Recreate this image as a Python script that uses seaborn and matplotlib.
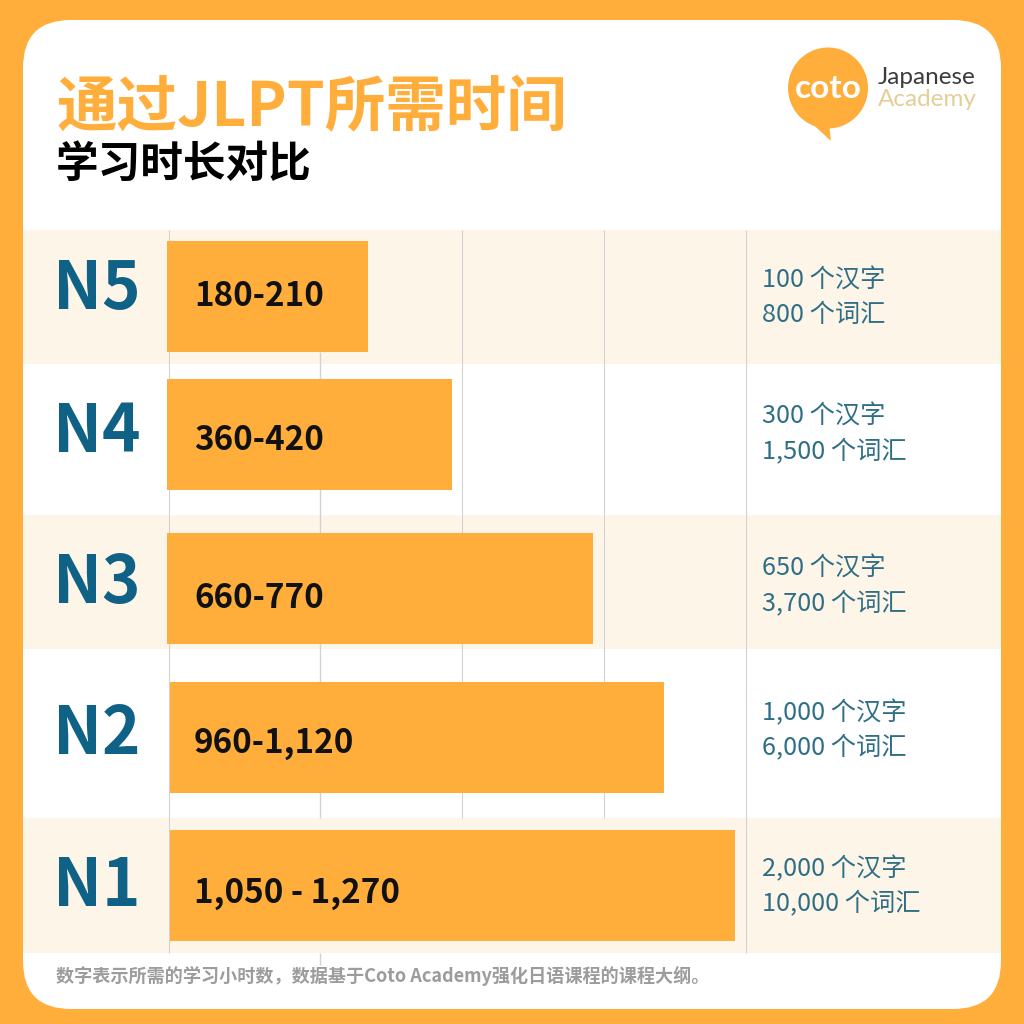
import matplotlib
matplotlib.use("Agg")
import matplotlib.pyplot as plt
import pandas as pd
import seaborn as sns
from matplotlib.patches import Ellipse, FancyBboxPatch, Polygon, Rectangle

# ---- data ----
levels = ["N5", "N4", "N3", "N2", "N1"]
hour_labels = ["180-210", "360-420", "660-770", "960-1,120", "1,050 - 1,270"]
# bar ends on the chart's own scale (last gridline = 1000), bars are not to scale with the hours
bar_ends = [345, 492, 735, 858, 982]
bar_starts = [-2, -2, -2, 2, 2]
grid_ticks = [0, 262, 508, 754, 1000]
kanji_labels = ["100 个汉字", "300 个汉字", "650 个汉字", "1,000 个汉字", "2,000 个汉字"]
vocab_labels = ["800 个词汇", "1,500 个词汇", "3,700 个词汇", "6,000 个词汇", "10,000 个词汇"]

# ---- layout, in reference pixels ----
row_centres = [296.5, 434.5, 588.5, 737.5, 885.5]
level_y = [289, 433, 584, 735, 886]
value_y = [297, 440, 599, 744, 893]
kanji_y = [281, 417, 569, 713, 869]
vocab_y = [315, 451, 603, 747, 903]
bands = [(230, 364), (515, 649), (818, 953)]

ORANGE = "#FFAE3B"
CREAM = "#FEF5E9"
TEAL = "#0F6285"
TEAL_SOFT = "#2F6F86"
GRID = "#D2D2D2"

sns.set_theme(style="white")
plt.rcParams["font.family"] = ["Noto Sans CJK SC", "DejaVu Sans"]

fig = plt.figure(figsize=(10.24, 10.24), dpi=100, facecolor=ORANGE)

# background axes in pixel units: card, stripes, text
bg = fig.add_axes([0, 0, 1, 1], zorder=0)
bg.set_xlim(0, 1024)
bg.set_ylim(1024, 0)
bg.axis("off")

bg.add_patch(FancyBboxPatch((23 + 48, 20 + 48), 978 - 96, 989 - 96,
                            boxstyle="round,pad=48,rounding_size=48",
                            fc="white", ec="none"))
for top, bottom in bands:
    bg.add_patch(Rectangle((23, top), 978, bottom - top, fc=CREAM, ec="none"))

bg.text(56, 109, "通过JLPT所需时间", color=ORANGE, fontsize=43.6, fontweight="bold",
        va="center", ha="left")
bg.text(56, 164, "学习时长对比", color="black", fontsize=30.7, fontweight="bold",
        va="center", ha="left")

for name, y in zip(levels, level_y):
    bg.text(53, y, name, color=TEAL, fontsize=47, fontweight="bold", va="center", ha="left")
for text, y in zip(kanji_labels, kanji_y):
    bg.text(762, y, text, color=TEAL_SOFT, fontsize=18.2, va="center", ha="left")
for text, y in zip(vocab_labels, vocab_y):
    bg.text(762, y, text, color=TEAL_SOFT, fontsize=18.2, va="center", ha="left")

bg.text(56, 976, "数字表示所需的学习小时数，数据基于Coto Academy强化日语课程的课程大纲。",
        color="#9C9C9C", fontsize=13.05, fontweight="bold", va="center", ha="left")

# logo
bg.add_patch(Ellipse((828, 88), 80, 81, fc=ORANGE, ec="none"))
bg.add_patch(Polygon([(806, 118), (831, 141), (829, 124)], fc=ORANGE, ec="none"))
bg.text(828, 89, "coto", color="white", fontsize=24, fontweight="bold",
        family="Lato", va="center", ha="center")
bg.text(878, 77, "Japanese", color="#3C3C3C", fontsize=17.5, family="Lato", va="center", ha="left")
bg.text(878, 100, "Academy", color="#E4CF98", fontsize=17.5, family="Lato", va="center", ha="left")

# chart axes, lined up with the gridlines and stripes
ax = fig.add_axes([168.5 / 1024, 1 - 953 / 1024, 577 / 1024, 723 / 1024], zorder=1)
ax.patch.set_alpha(0)

df = pd.DataFrame({"end": bar_ends, "row": row_centres})
sns.barplot(data=df, x="end", y="row", orient="h", native_scale=True,
            color=ORANGE, saturation=1, width=0.804, linewidth=0, ax=ax, zorder=3)
for patch, start, end in zip(ax.patches, bar_starts, bar_ends):
    patch.set_x(start)
    patch.set_width(end - start)
    patch.set_clip_on(False)

ax.set_xlim(0, 1000)
ax.set_ylim(953, 230)
ax.set_xlabel("")
ax.set_ylabel("")
ax.set_xticks([])
ax.set_yticks([])
sns.despine(ax=ax, left=True, bottom=True)

# outer gridlines run the whole height, inner ones stop at the last stripe
ax.vlines([grid_ticks[0], grid_ticks[-1]], 230, 953, color=GRID, lw=0.8, zorder=1, clip_on=False)
ax.vlines(grid_ticks[1], 352, 818, color=GRID, lw=1, zorder=1)
ax.vlines(grid_ticks[2:4], 230, 818, color=GRID, lw=0.8, zorder=1)
bg.vlines(319.5, 953, 965, color=GRID, lw=1)

for text, y in zip(hour_labels, value_y):
    ax.text(44, y, text, color="#111111", fontsize=23.9, fontweight="bold",
            va="center", ha="left", zorder=4)

fig.savefig("out.png", dpi=100, facecolor=ORANGE)
